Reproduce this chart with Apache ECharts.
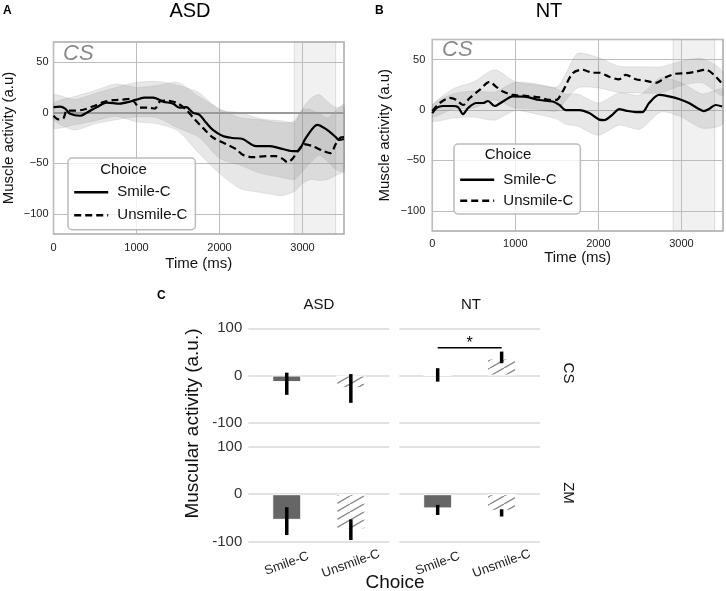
<!DOCTYPE html>
<html><head><meta charset="utf-8">
<script src="https://cdn.jsdelivr.net/npm/echarts@6/dist/echarts.min.js"></script>
<style>html,body{margin:0;padding:0;background:#fff}#c{width:726px;height:591px}</style>
</head><body><div id="c"></div>
<script>
// ---------- Panel A (ASD, CS) time courses ----------
const tA_smile = [0,80,140,200,320,400,520,640,800,920,1000,1100,1200,1320,1440,1520,1600,1680,1760,1840,1920,2040,2160,2280,2440,2600,2720,2880,2940,3040,3180,3280,3400,3440,3500];
const vA_smile = [5.5,6,4,-1,-3,0,5.5,10,9,11,13,15,15,11,9,5,5.5,0,-2,-10,-17,-23,-25,-26,-33,-33,-35,-38,-38,-25,-12,-16,-24,-27,-26];
const tA_unsmile = [0,60,120,160,240,360,480,600,720,840,940,980,1040,1160,1220,1280,1360,1480,1600,1700,1800,1920,2080,2200,2280,2400,2560,2680,2760,2820,2880,2960,3020,3120,3240,3340,3400,3460,3500];
const vA_unsmile = [-3,-6.5,-5.5,2,2,3,6.5,10.5,12.5,13,14,10,5,5,4,11,12,10,3,-6.5,-15,-24.5,-31,-36,-41.5,-44,-43,-43,-45.5,-49,-45.5,-36,-31,-33,-37.5,-40,-31,-24.5,-24];
const tA_band = [0,250,500,750,1000,1250,1500,1750,2000,2250,2500,2750,2900,3000,3100,3200,3300,3400,3500];
const loA_smile = [-6.5,-17,-11,-7,-4,-5,-15,-24,-45,-52,-60,-64,-66,-58,-49,-42,-48,-56,-58];
const hiA_smile = [17.5,13,19,25,30,31,27,20,3,0,-6,-8,-10,4,14,18,11,5,6];
const loA_unsmile = [-15,-12,-8,-3.5,-9,-11,-18,-40,-60,-75,-79,-82,-78,-70,-66,-67,-66,-62,-58];
const hiA_unsmile = [9,16,22,28.5,25,27,30,16,4,-5,-7,-10,-8,3,3,-1,-5,2,8];

// ---------- Panel B (NT, CS) time courses ----------
const tB_smile = [0,50,130,250,310,370,430,530,610,670,750,850,970,1130,1290,1450,1530,1610,1770,1890,2010,2070,2170,2250,2330,2450,2530,2610,2730,2850,2970,3090,3210,3270,3330,3410,3490];
const vB_smile = [-3,2,4,4,3,-4,2,7,7,9,4,8.5,13.5,13,10,8.5,5,0,0,-3,-9.5,-10,-4.5,1,-0.5,-2,-2,7,15,13.5,11,7,1,-1,1,5,3.5];
const tB_unsmile = [0,90,210,290,370,450,570,690,770,850,970,1130,1290,1410,1490,1570,1690,1810,1930,2010,2130,2250,2330,2450,2570,2690,2810,2930,3050,3170,3290,3390,3490];
const vB_unsmile = [-1,7,12,10,5,12,20,28,23,18.5,15,14,12.5,10,10,18.5,36.5,40,37,37,33,30.5,35,30.5,29,27,32.5,36,36.5,38,40,35,26];
const tB_band = [0,250,500,750,1000,1250,1500,1600,1750,2000,2250,2500,2750,3000,3250,3500];
const loB_smile = [-11,-8,-7,-10,-0.5,-4,-9,-14,-16,-25,-15,-19,-2,-7,-18,-13.5];
const hiB_smile = [5,16,19,18,27.5,26,21,16,16,7,17,15,32,27,16,20.5];
const loB_unsmile = [-7,1,2,10,2,1,-1,9,22,22,17.5,17,17,24.5,27,14];
const hiB_unsmile = [5,21,28,40,28,25,23,35,56,52,43.5,43,43,48.5,51,38];

const shadeWindow = [2900, 3400];

// ---------- Panel C bar facets ----------
const barCats = ['Smile-C', 'Unsmile-C'];
const csAsdMean = [-14, -27], csAsdLo = [-41, -58], csAsdHi = [6, 3];
const csNtMean = [1, 36], csNtLo = [-13, 26], csNtHi = [15.5, 50.7];
const zmAsdMean = [-54, -74], zmAsdLo = [-86, -96.5], zmAsdHi = [-27.5, -53];
const zmNtMean = [-30, -35], zmNtLo = [-43.7, -47], zmNtHi = [-22.5, -31.7];
const sigNtCS = [1, 2, 59];

const FONT = '"Liberation Sans", Arial, Helvetica, sans-serif';
const pairs = (t, v) => t.map((x, i) => [x, v[i]]);
const minus = v => (v < 0 ? '\u2212' + (-v) : String(v));

function hatchPattern() {
  const c = document.createElement('canvas');
  c.width = 14; c.height = 8;
  const g = c.getContext('2d');
  g.fillStyle = '#ffffff'; g.fillRect(0, 0, 14, 8);
  g.strokeStyle = '#8a8a8a'; g.lineWidth = 1.4;
  g.beginPath();
  g.moveTo(0, 8); g.lineTo(14, 0);
  g.moveTo(-14, 8); g.lineTo(0, 0);
  g.moveTo(14, 8); g.lineTo(28, 0);
  g.stroke();
  return { image: c, repeat: 'repeat' };
}
const hatch = hatchPattern();

function bandSeries(gi, t, lo, hi) {
  const data = t.map((x, i) => [x, lo[i], hi[i]]);
  return {
    type: 'custom', xAxisIndex: gi, yAxisIndex: gi, data: data, silent: true, z: 2, clip: true,
    encode: { x: 0, y: [1, 2] },
    renderItem: function (params, api) {
      if (params.dataIndex !== 0) return null;
      const up = data.map(d => api.coord([d[0], d[2]]));
      const dn = data.map(d => api.coord([d[0], d[1]])).reverse();
      return {
        type: 'polygon',
        shape: { points: up.concat(dn), smooth: 0.25 },
        style: { fill: 'rgba(128,128,128,0.19)', stroke: 'rgba(128,128,128,0.15)', lineWidth: 1 }
      };
    }
  };
}

function lineSeries(gi, name, t, v, dashed, extra) {
  return Object.assign({
    type: 'line', name: name, xAxisIndex: gi, yAxisIndex: gi, data: pairs(t, v),
    symbol: 'none', showSymbol: false, smooth: 0.3, z: 5,
    lineStyle: { color: '#000', width: 2.2, type: dashed ? [7, 4] : 'solid' },
    itemStyle: { color: '#000' }
  }, extra || {});
}

function topX(gi, nameGap, margin) {
  return {
    type: 'value', gridIndex: gi, min: 0, max: 3500, interval: 1000,
    name: 'Time (ms)', nameLocation: 'middle', nameGap: nameGap,
    nameTextStyle: { fontSize: 15, color: '#111', fontFamily: FONT },
    axisLine: { show: false }, axisTick: { show: false },
    axisLabel: { fontSize: 11, color: '#222', margin: margin, fontFamily: FONT,
      formatter: v => (v % 1000 === 0 ? String(v) : '') },
    splitLine: { lineStyle: { color: '#bdbdbd', width: 1 } }
  };
}
function topY(gi, nameGap, margin) {
  return {
    type: 'value', gridIndex: gi, min: -120, max: 70, splitNumber: 4,
    name: 'Muscle activity (a.u)', nameLocation: 'middle', nameGap: nameGap,
    nameTextStyle: { fontSize: 15, color: '#111', fontFamily: FONT },
    axisLine: { show: false }, axisTick: { show: false },
    axisLabel: { fontSize: 11, color: '#222', margin: margin, fontFamily: FONT,
      formatter: v => (v % 50 === 0 ? minus(v) : '') },
    splitLine: { lineStyle: { color: '#bdbdbd', width: 1 } }
  };
}
function barX(gi, showLabels) {
  return {
    type: 'value', gridIndex: gi, min: 0.4, max: 2.6,
    axisLine: { show: false }, axisTick: { show: false }, splitLine: { show: false },
    axisLabel: showLabels ? {
      customValues: [1, 2], formatter: v => barCats[Math.round(v) - 1] || '',
      rotate: 20, align: 'center', verticalAlign: 'middle', margin: 22,
      fontSize: 13, color: '#222', fontFamily: FONT
    } : { show: false }
  };
}
function barY(gi, showLabels) {
  return {
    type: 'value', gridIndex: gi, min: -100, max: 100, interval: 100,
    axisLine: { show: false }, axisTick: { show: false },
    axisLabel: showLabels ? { fontSize: 15, color: '#333', margin: 6, fontFamily: FONT } : { show: false },
    splitLine: { lineStyle: { color: '#d9d9d9', width: 1.5 } }
  };
}
function barSeries(gi, means) {
  return {
    type: 'bar', xAxisIndex: gi, yAxisIndex: gi, barWidth: 29, z: 3, silent: true,
    data: means.map((m, i) => ({
      value: [i + 1, m],
      itemStyle: { color: i === 0 ? '#666666' : hatch, borderColor: '#ffffff', borderWidth: 1 }
    }))
  };
}
function errSeries(gi, lo, hi) {
  return {
    type: 'custom', xAxisIndex: gi, yAxisIndex: gi, silent: true, z: 6,
    data: lo.map((l, i) => [i + 1, l, hi[i]]),
    encode: { x: 0, y: [1, 2] },
    renderItem: function (params, api) {
      const p1 = api.coord([api.value(0), api.value(1)]);
      const p2 = api.coord([api.value(0), api.value(2)]);
      return { type: 'line', shape: { x1: p1[0], y1: p1[1], x2: p2[0], y2: p2[1] },
        style: { stroke: '#000', lineWidth: 3.5 } };
    }
  };
}
function sigSeries(gi, s) {
  return {
    type: 'custom', xAxisIndex: gi, yAxisIndex: gi, silent: true, z: 6,
    data: [s], encode: { x: [0, 1], y: 2 },
    renderItem: function (params, api) {
      const a = api.coord([api.value(0), api.value(2)]);
      const b = api.coord([api.value(1), api.value(2)]);
      return { type: 'group', children: [
        { type: 'line', shape: { x1: a[0], y1: a[1], x2: b[0], y2: b[1] }, style: { stroke: '#000', lineWidth: 1.5 } },
        { type: 'text', x: (a[0] + b[0]) / 2, y: a[1] - 4,
          style: { text: '*', align: 'center', verticalAlign: 'middle', textAlign: 'center', textVerticalAlign: 'middle',
            fontSize: 16, fontFamily: FONT, fill: '#000' } }
      ] };
    }
  };
}

function txt(text, x, y, size, opts) {
  opts = opts || {};
  return {
    type: 'text', x: x, y: y, rotation: opts.rotation || 0, z: 100, silent: true,
    style: {
      text: text, fill: opts.color || '#111', fontSize: size, fontFamily: FONT,
      fontWeight: opts.bold ? 'bold' : 'normal', fontStyle: opts.italic ? 'italic' : 'normal',
      align: opts.align || 'center', verticalAlign: 'middle',
      textAlign: opts.align || 'center', textVerticalAlign: 'middle'
    }
  };
}

const legendCommon = {
  orient: 'vertical', data: ['Smile-C', 'Unsmile-C'], itemWidth: 34, itemHeight: 14,
  icon: 'inherit',
  itemStyle: { opacity: 0, borderWidth: 0 },
  lineStyle: { width: 2.4 },
  formatter: n => ' ' + n, selectedMode: false,
  textStyle: { fontSize: 15, color: '#111', fontFamily: FONT },
  backgroundColor: 'rgba(255,255,255,0.8)', borderColor: '#bcbcbc', borderWidth: 1.5, borderRadius: 4
};

const option = {
  animation: false,
  backgroundColor: '#ffffff',
  textStyle: { fontFamily: FONT },
  grid: [
    { left: 52.5, top: 42, width: 291.5, height: 192, show: true, borderColor: '#aaaaaa', borderWidth: 1.5 },
    { left: 432.3, top: 39.5, width: 291, height: 191.5, show: true, borderColor: '#aaaaaa', borderWidth: 1.5 },
    { left: 248.3, top: 328.3, width: 141, height: 94.4 },
    { left: 399.3, top: 328.3, width: 140.7, height: 94.4 },
    { left: 248.3, top: 446.7, width: 141, height: 95 },
    { left: 399.3, top: 446.7, width: 140.7, height: 95 }
  ],
  xAxis: [topX(0, 22, 8), topX(1, 18, 7), barX(2, false), barX(3, false), barX(4, true), barX(5, true)],
  yAxis: [topY(0, 37.5, 5), topY(1, 40, 7), barY(2, true), barY(3, false), barY(4, true), barY(5, false)],
  legend: [
    Object.assign({}, legendCommon, { left: 68, top: 158, itemGap: 8, padding: [26.7, 8, 7, 5] }),
    Object.assign({}, legendCommon, { left: 454, top: 144, itemGap: 6, padding: [28.3, 7, 5.7, 5] })
  ],
  series: [
    bandSeries(0, tA_band, loA_smile, hiA_smile),
    bandSeries(0, tA_band, loA_unsmile, hiA_unsmile),
    lineSeries(0, 'Smile-C', tA_smile, vA_smile, false, {
      markArea: { silent: true, itemStyle: { color: 'rgba(190,190,190,0.22)', borderColor: 'rgba(170,170,170,0.35)', borderWidth: 1 },
        data: [[{ xAxis: shadeWindow[0] }, { xAxis: shadeWindow[1] }]] }
    }),
    lineSeries(0, 'Unsmile-C', tA_unsmile, vA_unsmile, true, {
      markLine: { silent: true, symbol: 'none', label: { show: false },
        lineStyle: { color: '#9a9a9a', width: 2, type: 'solid' }, data: [{ yAxis: 0 }] }
    }),
    bandSeries(1, tB_band, loB_smile, hiB_smile),
    bandSeries(1, tB_band, loB_unsmile, hiB_unsmile),
    lineSeries(1, 'Smile-C', tB_smile, vB_smile, false, {
      markArea: { silent: true, itemStyle: { color: 'rgba(190,190,190,0.22)', borderColor: 'rgba(170,170,170,0.35)', borderWidth: 1 },
        data: [[{ xAxis: shadeWindow[0] }, { xAxis: shadeWindow[1] }]] }
    }),
    lineSeries(1, 'Unsmile-C', tB_unsmile, vB_unsmile, true),
    barSeries(2, csAsdMean), errSeries(2, csAsdLo, csAsdHi),
    barSeries(3, csNtMean), errSeries(3, csNtLo, csNtHi), sigSeries(3, sigNtCS),
    barSeries(4, zmAsdMean), errSeries(4, zmAsdLo, zmAsdHi),
    barSeries(5, zmNtMean), errSeries(5, zmNtLo, zmNtHi)
  ],
  graphic: { elements: [
    txt('A', 3, 11, 12, { bold: true, align: 'left', color: '#000' }),
    txt('B', 375, 11, 12, { bold: true, align: 'left', color: '#000' }),
    txt('C', 157, 296, 12, { bold: true, align: 'left', color: '#000' }),
    txt('ASD', 190, 11, 20, { color: '#000' }),
    txt('NT', 549, 11, 20, { color: '#000' }),
    txt('CS', 63, 53.5, 22, { italic: true, align: 'left', color: '#8a8a8a' }),
    txt('CS', 442, 50, 22, { italic: true, align: 'left', color: '#8a8a8a' }),
    txt('Choice', 123.5, 170, 15),
    txt('Choice', 508, 155, 15),
    txt('ASD', 318.8, 305, 15),
    txt('NT', 471, 305, 15),
    txt('CS', 568, 373, 15, { rotation: -Math.PI / 2 }),
    txt('ZM', 568, 493, 15, { rotation: -Math.PI / 2 }),
    txt('Muscular activity (a.u.)', 193, 423.5, 19, { rotation: Math.PI / 2 }),
    txt('Choice', 395, 583, 19)
  ] }
};

const chart = echarts.init(document.getElementById('c'), null, { renderer: 'canvas' });
chart.setOption(option);
</script></body></html>
